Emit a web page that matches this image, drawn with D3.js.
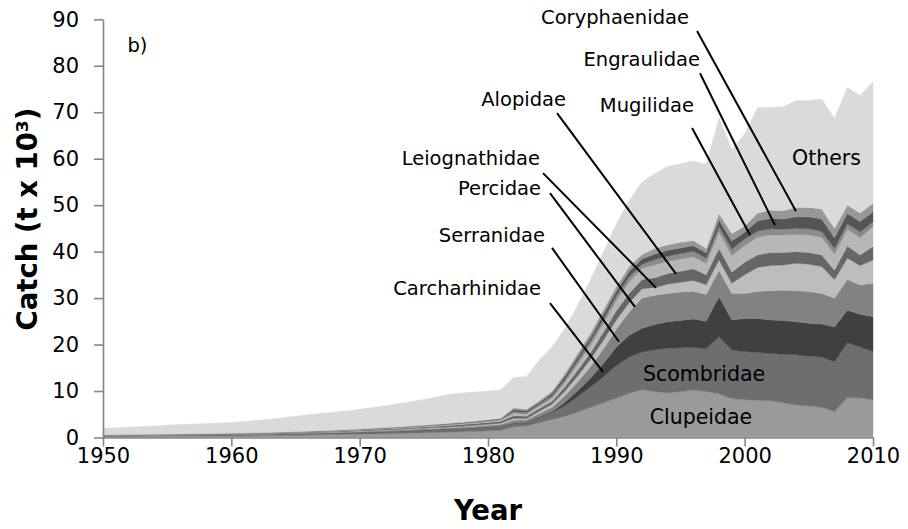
<!DOCTYPE html>
<html>
<head>
<meta charset="utf-8">
<script src="https://cdn.jsdelivr.net/npm/d3@7"></script>
<style>
  html, body { margin: 0; padding: 0; background: #fff; }
  svg { display: block; }
  text { font-family: "DejaVu Sans", Verdana, sans-serif; }
</style>
</head>
<body>
<svg id="chart" width="908" height="529"></svg>
<script>
// ---------------- DATA ----------------
const years = d3.range(1950, 2011);
const xTicks = [1950, 1960, 1970, 1980, 1990, 2000, 2010];
const yTicks = [0, 10, 20, 30, 40, 50, 60, 70, 80, 90];

const clupeidae = [0.25,0.26,0.27,0.28,0.30,0.31,0.32,0.33,0.35,0.36,0.38,0.40,0.42,0.45,0.48,0.51,0.55,0.58,0.62,0.67,0.72,0.77,0.82,0.87,0.94,1.01,1.08,1.15,1.22,1.32,1.43,1.55,
  2.3,2.5,3.2,3.9,4.6,5.5,6.5,7.5,8.5,9.5,10.3,9.9,9.6,9.9,10.2,9.9,9.4,8.4,8.1,8.0,7.9,7.5,7.0,6.8,6.5,5.6,8.6,8.5,8.1];
const scombridae = [0.12,0.12,0.13,0.13,0.14,0.15,0.16,0.17,0.18,0.19,0.20,0.21,0.22,0.23,0.25,0.27,0.29,0.31,0.33,0.36,0.39,0.42,0.45,0.48,0.52,0.56,0.60,0.64,0.68,0.73,0.78,0.84,
  0.7,0.7,1.1,1.5,2.3,3.3,4.4,5.6,7.0,7.8,8.1,9.0,9.6,9.4,9.2,9.2,12.3,10.4,10.4,10.3,10.2,10.4,10.8,10.7,10.8,10.7,11.8,11.0,10.4];
const carcharhinidae = [0,0,0,0,0,0,0,0,0,0,0,0,0,0,0.01,0.01,0.01,0.01,0.01,0.01,0.01,0.01,0.01,0.02,0.02,0.02,0.02,0.02,0.03,0.03,0.03,0.04,
  0.1,0.1,0.15,0.2,0.7,1.3,1.9,2.8,4.0,4.7,5.1,5.4,5.7,5.9,6.1,5.9,8.6,6.5,7.1,7.3,7.2,7.3,7.1,7.1,7.1,7.5,7.0,7.0,7.5];
const serranidae = [0.05,0.05,0.05,0.06,0.06,0.06,0.06,0.07,0.07,0.07,0.08,0.08,0.09,0.09,0.10,0.11,0.12,0.13,0.14,0.16,0.17,0.19,0.20,0.22,0.24,0.26,0.28,0.30,0.32,0.35,0.38,0.41,
  0.6,0.5,0.7,0.9,1.4,1.9,2.5,3.2,3.8,5.0,6.5,6.3,6.1,6.1,6.0,5.8,5.7,5.7,5.4,5.8,6.3,6.5,6.7,6.8,6.6,6.2,6.6,6.3,7.2];
const percidae = [0.03,0.03,0.03,0.03,0.03,0.04,0.04,0.04,0.04,0.04,0.05,0.05,0.05,0.06,0.06,0.07,0.07,0.08,0.08,0.09,0.10,0.11,0.12,0.13,0.14,0.15,0.16,0.17,0.19,0.21,0.23,0.25,
  0.4,0.3,0.5,0.7,1.0,1.3,1.6,1.9,2.0,2.0,2.0,1.7,2.0,2.1,2.3,2.1,2.2,2.2,4.0,5.2,5.4,5.4,5.9,5.9,5.8,4.0,4.6,4.2,5.0];
const leiognathidae = [0.05,0.05,0.05,0.06,0.06,0.06,0.07,0.07,0.07,0.08,0.08,0.09,0.09,0.10,0.11,0.12,0.13,0.14,0.15,0.17,0.18,0.20,0.22,0.23,0.25,0.27,0.30,0.32,0.34,0.37,0.40,0.43,
  0.6,0.5,0.6,0.6,0.9,1.2,1.4,1.7,2.0,2.0,2.0,2.1,2.3,2.4,2.5,2.1,2.5,2.4,2.7,2.7,2.8,2.7,2.5,2.5,2.5,2.0,2.6,2.3,2.9];
const alopidae = [0.03,0.03,0.03,0.03,0.03,0.03,0.03,0.04,0.04,0.04,0.04,0.04,0.05,0.05,0.05,0.06,0.06,0.07,0.07,0.08,0.09,0.10,0.11,0.12,0.13,0.14,0.15,0.16,0.18,0.19,0.21,0.23,
  0.5,0.4,0.55,0.7,1.0,1.3,1.6,1.9,2.2,2.5,2.4,2.8,2.6,2.6,2.6,2.5,3.6,3.6,3.6,3.8,3.8,3.8,3.7,3.8,3.8,3.5,3.6,3.7,4.3];
const mugilidae = [0.04,0.04,0.04,0.04,0.04,0.04,0.04,0.04,0.05,0.05,0.05,0.05,0.05,0.06,0.06,0.06,0.07,0.07,0.08,0.08,0.09,0.10,0.11,0.12,0.13,0.14,0.15,0.16,0.17,0.19,0.21,0.22,
  0.4,0.4,0.4,0.5,0.6,0.8,0.9,0.9,1.0,1.1,0.9,1.1,1.1,1.2,1.2,1.1,1.1,1.3,1.4,1.3,1.3,1.2,1.3,1.3,1.3,1.2,1.2,1.2,1.0];
const engraulidae = [0.02,0.02,0.02,0.02,0.02,0.02,0.02,0.02,0.02,0.02,0.02,0.02,0.03,0.03,0.03,0.03,0.03,0.04,0.04,0.04,0.05,0.05,0.06,0.06,0.07,0.07,0.08,0.08,0.09,0.10,0.11,0.12,
  0.4,0.35,0.35,0.5,0.7,0.8,0.8,1.0,1.0,1.1,1.1,1.2,1.3,1.2,1.2,1.1,1.4,1.8,1.5,2.2,2.3,2.2,2.5,2.6,2.6,2.3,2.2,2.3,2.2];
const coryphaenidae = [0.01,0.01,0.01,0.01,0.01,0.01,0.01,0.01,0.01,0.01,0.01,0.01,0.01,0.01,0.01,0.01,0.02,0.02,0.02,0.02,0.02,0.02,0.03,0.03,0.03,0.03,0.04,0.04,0.04,0.05,0.05,0.06,
  0.4,0.35,0.35,0.5,0.6,0.8,0.9,1.0,1.0,1.1,1.0,1.2,1.2,1.2,1.1,1.0,1.4,1.6,1.3,1.7,1.7,1.8,2.0,2.0,2.2,2.0,1.8,1.8,1.8];
const others = [1.40,1.49,1.57,1.69,1.81,1.93,2.05,2.11,2.17,2.24,2.34,2.50,2.69,2.87,3.09,3.35,3.55,3.75,3.91,4.07,4.28,4.48,4.72,5.02,5.23,5.55,5.84,6.26,6.34,6.26,6.17,6.15,
  6.5,7.0,8.8,9.5,9.7,10.3,11.5,12.5,13.5,14.2,15.6,16.1,16.8,16.9,17.1,18.1,20.6,18.1,19.8,22.7,22.1,22.4,23.0,23.0,23.6,23.7,25.3,25.3,26.1];

const families = ["Clupeidae","Scombridae","Carcharhinidae","Serranidae","Percidae","Leiognathidae","Alopidae","Mugilidae","Engraulidae","Coryphaenidae","Others"];
const familyValues = [clupeidae, scombridae, carcharhinidae, serranidae, percidae, leiognathidae, alopidae, mugilidae, engraulidae, coryphaenidae, others];
const familyColors = ["#9a9a9a","#6e6e6e","#404040","#828282","#bdbdbd","#666666","#b7b7b7","#8c8c8c","#555555","#979797","#dadada"];

// Callout labels: text anchor point and pointer line (year, catch)
const callouts = [
  {name:"Coryphaenidae",  tx:1995.66, ty:89.0,  x1:1996.29, y1:87.5, x2:2004.0,  y2:48.7},
  {name:"Engraulidae",    tx:1996.52, ty:80.0,  x1:1996.52, y1:78.4, x2:2002.36, y2:45.7},
  {name:"Mugilidae",      tx:1996.05, ty:70.0,  x1:1995.9,  y1:66.6, x2:2000.42, y2:43.6},
  {name:"Alopidae",       tx:1986.08, ty:71.4,  x1:1985.38, y1:69.8, x2:1994.65, y2:35.2},
  {name:"Leiognathidae",  tx:1984.05, ty:58.6,  x1:1984.29, y1:56.9, x2:1993.1,  y2:32.2},
  {name:"Percidae",       tx:1984.13, ty:52.2,  x1:1984.83, y1:52.6, x2:1991.45, y2:28.1},
  {name:"Serranidae",     tx:1984.44, ty:42.0,  x1:1984.99, y1:40.8, x2:1990.21, y2:20.6},
  {name:"Carcharhinidae", tx:1984.13, ty:30.6,  x1:1984.83, y1:28.9, x2:1988.96, y2:14.1}
];
const inlineLabels = [
  {name:"Scombridae", tx:1992.08, ty:12.2},
  {name:"Clupeidae",  tx:1992.6,  ty:2.8},
  {name:"Others",     tx:2003.69, ty:58.6}
];
const panelLabel = {text:"b)", tx:1951.9, ty:82.9};

// ---------------- CHART ----------------
const svg = d3.select("#chart");
const x = d3.scaleLinear().domain([1950, 2010]).range([103, 873]);
const y = d3.scaleLinear().domain([0, 90]).range([437.5, 19.3]);

const rows = years.map((yr, i) => {
  const r = {year: yr};
  families.forEach((f, k) => { r[f] = familyValues[k][i]; });
  return r;
});
const stacked = d3.stack().keys(families)(rows);

const area = d3.area()
  .x(d => x(d.data.year))
  .y0(d => y(d[0]))
  .y1(d => y(d[1]))
  .curve(d3.curveLinear);

svg.append("g").selectAll("path")
  .data(stacked)
  .join("path")
  .attr("d", area)
  .attr("fill", (d, i) => familyColors[i])
  .attr("stroke", (d, i) => familyColors[i])
  .attr("stroke-width", 0.4);

// Axes
const axisColor = "#868686";
const yAxis = svg.append("g")
  .attr("transform", `translate(${x(1950)},0)`)
  .call(d3.axisLeft(y).tickValues(yTicks).tickSize(9).tickSizeOuter(0).tickPadding(15));
const xAxis = svg.append("g")
  .attr("transform", `translate(0,${y(0)})`)
  .call(d3.axisBottom(x).tickValues(xTicks).tickFormat(d3.format("d")).tickSize(9).tickSizeOuter(0).tickPadding(2));

[yAxis, xAxis].forEach(g => {
  g.select(".domain").attr("stroke", axisColor).attr("stroke-width", 1.6);
  g.selectAll(".tick line").attr("stroke", axisColor).attr("stroke-width", 1.6);
  g.selectAll(".tick text").attr("fill", "#000").style("font-size", "21px")
    .style("font-family", "'DejaVu Sans', Verdana, sans-serif");
});

// Axis titles
svg.append("text")
  .attr("transform", `translate(37,219) rotate(-90)`)
  .attr("text-anchor", "middle")
  .style("font-size", "27.5px").style("font-weight", "bold")
  .text("Catch (t x 10³)");
svg.append("text")
  .attr("x", (x(1950) + x(2010)) / 2).attr("y", 520)
  .attr("text-anchor", "middle")
  .style("font-size", "27.5px").style("font-weight", "bold")
  .text("Year");

// Callouts
const cg = svg.append("g");
callouts.forEach(c => {
  cg.append("line")
    .attr("x1", x(c.x1)).attr("y1", y(c.y1))
    .attr("x2", x(c.x2)).attr("y2", y(c.y2))
    .attr("stroke", "#000").attr("stroke-width", 2);
  cg.append("text")
    .attr("x", x(c.tx)).attr("y", y(c.ty))
    .attr("text-anchor", "end")
    .style("font-size", "19.5px")
    .text(c.name);
});
inlineLabels.forEach(l => {
  cg.append("text")
    .attr("x", x(l.tx)).attr("y", y(l.ty))
    .style("font-size", "20.5px")
    .text(l.name);
});
svg.append("text")
  .attr("x", x(panelLabel.tx)).attr("y", y(panelLabel.ty))
  .style("font-size", "19.5px")
  .text(panelLabel.text);
</script>
</body>
</html>
